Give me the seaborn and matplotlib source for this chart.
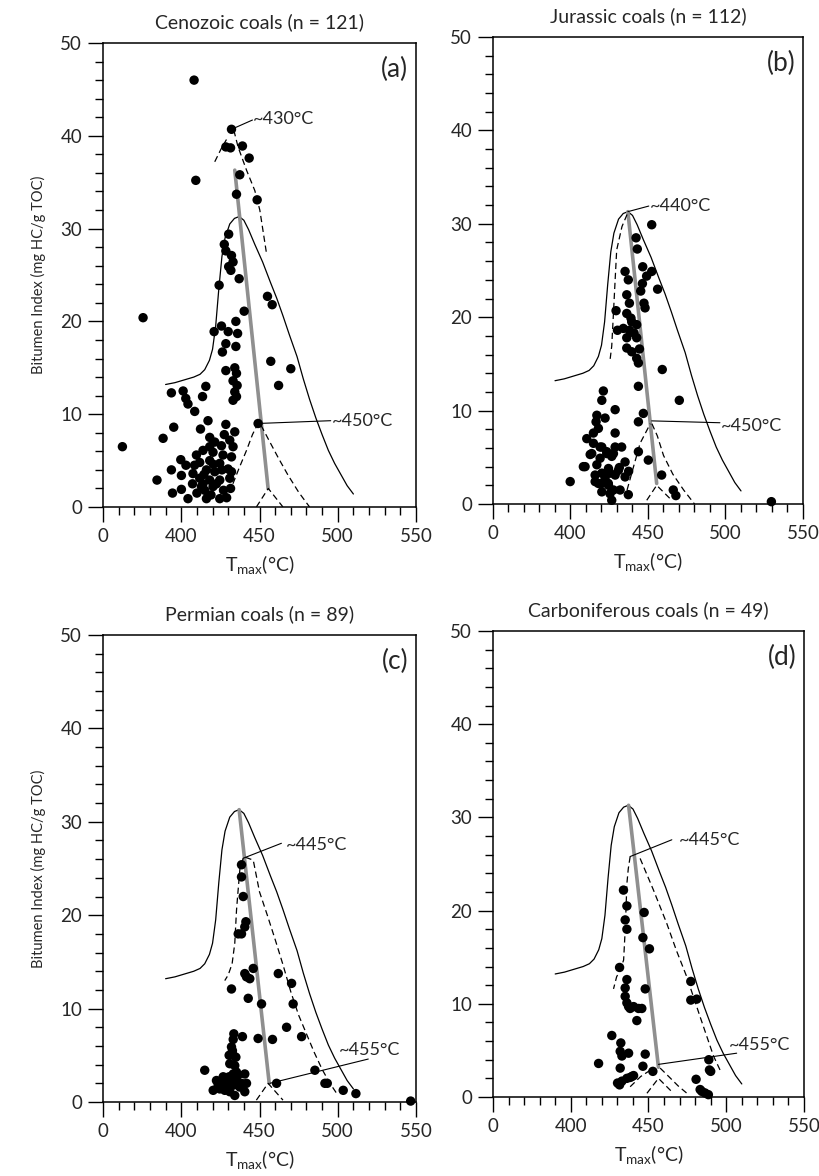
import numpy as np
import pandas as pd
import matplotlib
matplotlib.use("Agg")
import matplotlib.pyplot as plt
import seaborn as sns

# ---------------- data ----------------
titles = ["Cenozoic coals (n = 121)", "Jurassic coals (n = 112)",
          "Permian coals (n = 89)", "Carboniferous coals (n = 49)"]
panel_tags = ["(a)", "(b)", "(c)", "(d)"]

a_x = [408.2, 432.1, 428.5, 431.5, 439.1, 443.4, 409.3, 437.4, 435.3, 448.5,
       430.3, 427.5, 428.5, 432.1, 433.1, 430.3, 431.7, 437.0, 424.2, 455.1,
       458.1, 440.2, 434.9, 425.7, 421.0, 430.0, 436.0, 428.5, 434.9, 426.3,
       375.6, 457.2, 470.0, 462.2, 428.5, 434.2, 435.3, 433.1, 435.7, 434.2,
       435.3, 433.1, 393.7, 401.2, 402.9, 404.3, 408.6, 415.7, 413.6, 449.1,
       417.1, 395.2, 388.4, 362.4, 412.3, 399.7, 384.5, 393.7, 428.5, 434.2,
       431.0, 418.2, 421.4, 425.7, 433.1, 413.9, 420.3, 409.7, 426.7, 432.1,
       411.8, 418.2, 424.6, 429.9, 416.1, 421.4, 432.1, 407.5, 411.8, 418.2,
       424.6, 431.0, 413.9, 422.5, 400.1, 394.4, 400.1, 404.3, 407.2, 412.9,
       416.1, 420.3, 424.6, 427.0, 418.2, 429.0, 410.0, 403.0, 415.0, 419.0,
       426.0, 414.5, 408.5, 431.5, 420.5, 427.5]
a_y = [46.0, 40.7, 38.8, 38.7, 38.9, 37.6, 35.2, 35.8, 33.7, 33.1,
       29.4, 28.3, 27.6, 27.1, 26.4, 25.9, 25.5, 24.6, 23.9, 22.7,
       21.8, 21.1, 20.0, 19.5, 18.9, 18.9, 18.7, 17.6, 17.3, 16.7,
       20.4, 15.7, 14.9, 13.1, 14.7, 15.0, 14.4, 13.6, 13.1, 12.4,
       11.9, 11.5, 12.3, 12.5, 11.7, 11.1, 10.3, 13.0, 11.9, 9.0,
       9.3, 8.6, 7.4, 6.5, 8.4, 5.1, 2.9, 4.0, 8.9, 8.1,
       7.2, 7.5, 7.0, 6.6, 6.5, 6.1, 5.9, 5.6, 5.6, 5.4,
       4.8, 5.0, 4.7, 4.1, 4.0, 3.8, 3.8, 3.6, 3.1, 2.9,
       2.9, 3.1, 2.5, 2.5, 3.4, 1.5, 1.9, 0.9, 2.5, 2.2,
       0.9, 2.2, 0.9, 1.8, 6.5, 1.0, 1.5, 4.5, 1.8, 1.3,
       4.0, 3.5, 4.5, 2.0, 4.6, 7.8]

b_x = [452.4, 442.3, 443.1, 446.6, 452.4, 449.1, 435.2, 437.3, 446.4, 445.3,
       456.2, 436.3, 438.0, 447.4, 448.1, 429.4, 436.3, 439.5, 442.7, 430.3,
       434.1, 438.0, 441.0, 436.3, 442.7, 436.3, 439.5, 442.7, 443.8, 459.2,
       443.8, 470.2, 447.0, 443.8, 450.2, 458.8, 421.2, 420.2, 417.0, 422.3,
       428.8, 414.8, 418.0, 428.8, 414.8, 419.1, 423.4, 428.8, 433.0, 412.7,
       419.1, 426.6, 443.8, 409.4, 417.0, 424.5, 435.2, 415.9, 422.3, 428.8,
       399.8, 418.0, 424.5, 435.2, 427.7, 408.3, 413.7, 420.2, 423.4, 427.7,
       420.2, 425.5, 415.9, 420.2, 424.4, 430.9, 432.0, 437.3, 420.2, 425.5,
       426.6, 466.3, 468.0, 529.6, 410.5, 416.5, 431.5, 437.5, 439.0, 444.5]
b_y = [29.9, 28.5, 27.3, 25.4, 24.9, 24.4, 24.9, 24.0, 23.6, 22.8,
       23.0, 22.4, 21.5, 21.5, 21.0, 20.7, 20.4, 19.5, 19.2, 18.6,
       18.8, 18.6, 18.3, 17.8, 17.8, 16.7, 16.3, 15.6, 15.1, 14.4,
       12.6, 11.1, 9.7, 8.8, 4.7, 3.1, 12.1, 11.1, 9.5, 9.2,
       10.1, 7.6, 8.1, 7.6, 6.5, 6.1, 5.6, 6.1, 6.1, 5.3,
       4.9, 5.1, 5.6, 4.0, 4.2, 3.8, 4.5, 3.1, 2.8, 3.1,
       2.4, 2.2, 2.0, 2.9, 1.5, 4.0, 5.4, 6.1, 5.4, 5.4,
       3.3, 3.3, 2.4, 2.2, 2.2, 3.6, 1.5, 1.0, 1.3, 1.1,
       0.4, 1.5, 0.9, 0.25, 7.0, 8.8, 3.9, 3.5, 19.9, 16.6]

c_x = [438.5, 438.5, 439.6, 441.3, 440.6, 436.4, 438.5, 446.0, 440.6, 441.7,
       443.8, 462.0, 432.1, 470.5, 442.8, 451.3, 471.5, 467.3, 439.1, 449.1,
       458.3, 476.9, 433.2, 432.1, 430.6, 433.2, 415.0, 431.0, 434.2, 435.3,
       440.6, 422.5, 425.7, 428.9, 432.1, 435.3, 420.4, 424.6, 427.8, 431.0,
       434.2, 440.6, 423.6, 426.8, 430.0, 433.2, 437.4, 460.9, 485.4, 491.8,
       493.3, 503.5, 511.6, 546.6, 430.6, 436.4, 433.2, 426.8, 438.5, 441.7,
       433.6, 432.7, 434.9]
c_y = [25.4, 24.1, 22.0, 19.3, 18.75, 18.0, 18.0, 14.3, 13.75, 13.4,
       13.2, 13.75, 12.1, 12.7, 11.1, 10.5, 10.5, 8.0, 7.0, 6.8,
       6.7, 7.0, 6.7, 5.9, 5.0, 5.0, 3.4, 4.1, 3.9, 3.2,
       3.0, 2.3, 2.3, 2.5, 2.1, 2.3, 1.25, 1.4, 1.25, 1.1,
       0.7, 1.1, 1.8, 1.8, 1.8, 1.8, 1.6, 2.0, 3.4, 2.0,
       2.0, 1.25, 0.9, 0.1, 2.7, 2.9, 3.0, 2.7, 2.0, 2.0,
       7.3, 5.5, 4.8]

d_x = [433.9, 436.1, 447.2, 435.0, 436.1, 446.4, 450.6, 431.4, 436.1, 477.2,
       435.0, 447.9, 435.0, 477.2, 481.0, 436.1, 440.4, 445.7, 438.2, 442.5,
       426.4, 432.2, 431.8, 437.2, 447.9, 432.9, 417.9, 431.8, 446.4, 452.8,
       488.8, 489.2, 490.0, 430.1, 432.9, 436.1, 439.3, 440.4, 480.6, 483.2,
       486.4, 488.5, 431.4, 438.2, 484.3, 437.2, 443.6]
d_y = [22.2, 20.5, 19.8, 19.0, 18.0, 17.1, 15.9, 13.9, 12.6, 12.4,
       11.7, 11.6, 10.8, 10.4, 10.5, 10.1, 9.7, 9.5, 9.5, 8.2,
       6.6, 5.8, 4.9, 4.7, 4.6, 4.4, 3.6, 3.1, 3.3, 2.75,
       4.0, 2.9, 2.75, 1.5, 1.7, 2.0, 2.2, 2.3, 1.9, 0.8,
       0.43, 0.25, 1.3, 2.1, 0.6, 9.7, 9.5]

# common solid envelope
env_x = [390, 396, 402, 408, 412, 415, 418, 420, 422, 424, 426, 428, 431, 434, 437,
         440, 443, 447, 452, 457, 461, 465, 469, 474, 478, 482, 486, 490, 494, 498,
         502, 506, 510]
env_y = [13.2, 13.4, 13.7, 14.0, 14.3, 14.8, 15.8, 17.0, 19.5, 23.5, 27.0, 29.0, 30.5,
         31.1, 31.3, 30.9, 29.9, 28.3, 26.4, 24.2, 22.5, 20.6, 18.6, 16.2, 13.8, 11.6,
         9.6, 7.8, 6.1, 4.7, 3.5, 2.3, 1.4]

# trend (grey) lines: start/end
trend = [([434.2, 455.5], [36.3, 2.0]),
         ([437.0, 455.6], [31.3, 2.2]),
         ([437.0, 456.2], [31.3, 2.0]),
         ([437.2, 456.4], [31.3, 3.2])]

# dashed curves per panel
dashed = [
    [([421.4, 425.5, 428.9], [37.2, 38.6, 39.6]),
     ([433.6, 436.3, 441.7, 447.0, 450.2, 454.5], [40.6, 38.8, 36.3, 34.1, 32.0, 27.3]),
     ([433.0, 437.0, 441.7, 445.5, 449.0], [2.5, 4.2, 6.1, 7.8, 9.0]),
     ([451.0, 456.0, 462.0, 468.0, 475.0, 482.0], [8.8, 7.2, 5.3, 3.5, 1.6, 0.0]),
     ([448.0, 455.6, 465.0], [0.0, 2.0, 0.0])],
    [([436.5, 433.2, 429.8, 428.8, 427.7, 426.6, 425.5], [31.0, 29.7, 27.2, 24.0, 20.4, 16.9, 15.4]),
     ([436.5, 439.5, 444.9, 451.5], [1.5, 3.3, 6.5, 8.6]),
     ([452.5, 456.0, 460.0, 466.0, 473.0, 480.0], [8.6, 7.3, 5.2, 3.2, 1.5, 0.0]),
     ([449.2, 455.6, 465.3], [0.4, 2.0, 0.4])],
    [([439.6, 437.5, 436.0, 435.3, 434.2, 432.5, 430.0, 427.8], [26.1, 25.0, 22.0, 20.5, 17.0, 14.8, 13.6, 13.0]),
     ([441.0, 446.0, 450.0, 455.0, 460.0, 465.0, 470.0, 475.0, 480.0, 485.0, 490.0, 495.0, 499.0],
      [26.2, 25.9, 22.5, 20.0, 17.4, 14.7, 11.8, 9.3, 7.3, 5.3, 3.5, 2.0, 1.0]),
     ([448.0, 455.5, 465.0], [0.2, 2.0, 0.2])],
    [([438.2, 437.0, 436.1, 435.5, 435.0, 434.0, 431.8, 429.5, 427.5], [25.8, 24.5, 22.9, 20.0, 17.9, 14.7, 13.6, 12.9, 11.6]),
     ([444.6, 453.2, 461.8, 468.0, 474.6, 483.2, 491.8, 496.0], [25.6, 22.2, 18.6, 15.7, 12.9, 8.6, 4.4, 2.9]),
     ([438.2, 445.0, 453.2], [1.1, 2.2, 3.1]),
     ([457.5, 463.0, 469.0, 474.7], [3.1, 2.2, 1.2, 0.4]),
     ([449.0, 456.4, 466.0], [0.4, 2.0, 0.4])],
]

# annotations: text, text position, leader start, leader end
annots = [
    [("~430°C", (446.0, 41.8), (432.1, 40.7), (445.5, 41.7)),
     ("~450°C", (496.5, 9.3), (449.1, 9.0), (495.5, 9.3))],
    [("~440°C", (451.0, 31.9), (437.0, 31.3), (450.5, 31.9)),
     ("~450°C", (496.8, 8.3), (452.4, 8.9), (496.4, 8.7))],
    [("~445°C", (466.8, 27.5), (439.6, 26.1), (464.0, 27.7)),
     ("~455°C", (501.0, 5.6), (456.6, 2.0), (519.5, 4.6))],
    [("~445°C", (469.8, 27.6), (438.2, 25.8), (465.0, 27.6)),
     ("~455°C", (502.0, 5.6), (456.4, 3.5), (506.7, 4.7))],
]

points = [(a_x, a_y), (b_x, b_y), (c_x, c_y), (d_x, d_y)]

x_major = [350, 400, 450, 500, 550]
x_major_labels = ["0", "400", "450", "500", "550"]
y_major = [0, 10, 20, 30, 40, 50]

# ---------------- style ----------------
sns.set_theme(style="ticks")
plt.rcParams["font.family"] = ["Lato", "DejaVu Sans"]
plt.rcParams["mathtext.default"] = "regular"
plt.rcParams["axes.linewidth"] = 1.1

fig = plt.figure(figsize=(8.2, 11.76), dpi=100)
rects = [
    [103 / 820, 1 - 507 / 1176, 313 / 820, 464 / 1176],
    [493 / 820, 1 - 504 / 1176, 310 / 820, 467 / 1176],
    [103 / 820, 1 - 1102 / 1176, 313 / 820, 467 / 1176],
    [493 / 820, 1 - 1097 / 1176, 311 / 820, 466 / 1176],
]

for i in range(4):
    ax = fig.add_axes(rects[i])
    px, py = points[i]
    df = pd.DataFrame({"Tmax": px, "BI": py})

    # envelope
    env = pd.DataFrame({"x": env_x, "y": env_y})
    sns.lineplot(data=env, x="x", y="y", sort=False, estimator=None, ax=ax,
                 color="black", linewidth=0.9)
    # trend line
    tx, ty = trend[i]
    sns.lineplot(x=tx, y=ty, sort=False, estimator=None, ax=ax,
                 color="#8f8f8f", linewidth=2.6)
    # dashed curves
    for dx, dy in dashed[i]:
        sns.lineplot(x=dx, y=dy, sort=False, estimator=None, ax=ax,
                     color="black", linewidth=0.9, linestyle=(0, (5, 3)))
    # points
    sns.scatterplot(data=df, x="Tmax", y="BI", ax=ax, color="black",
                    s=46, edgecolor="none", zorder=5, clip_on=False)
    # annotations
    for txt, tpos, p0, p1 in annots[i]:
        ax.plot([p0[0], p1[0]], [p0[1], p1[1]], color="black", linewidth=0.8)
        ax.text(tpos[0], tpos[1], txt, fontsize=13, ha="left", va="center")

    ax.text(545, 47.2, panel_tags[i], fontsize=19, ha="right", va="center")

    ax.set_xlim(350, 550)
    ax.set_ylim(0, 50)
    ax.set_xticks(x_major)
    ax.set_xticklabels(x_major_labels)
    ax.set_xticks(np.arange(350, 551, 10), minor=True)
    ax.set_yticks(y_major)
    ax.set_yticks(np.arange(0, 51, 2), minor=True)
    ax.tick_params(which="major", direction="out", length=11, width=1.0,
                   labelsize=13.5, color="black", pad=4)
    ax.tick_params(which="minor", direction="out", length=6, width=1.0,
                   color="black")
    for sp in ax.spines.values():
        sp.set_visible(True)
        sp.set_color("black")
    ax.set_xlabel(r"T$_{max}$(°C)", fontsize=14, labelpad=6)
    if i in (0, 2):
        ax.set_ylabel("Bitumen Index (mg HC/g TOC)", fontsize=10.5, labelpad=10)
    else:
        ax.set_ylabel("")
    ax.set_title(titles[i], fontsize=14, pad=11)

fig.savefig("out.png", dpi=100, facecolor="white")
